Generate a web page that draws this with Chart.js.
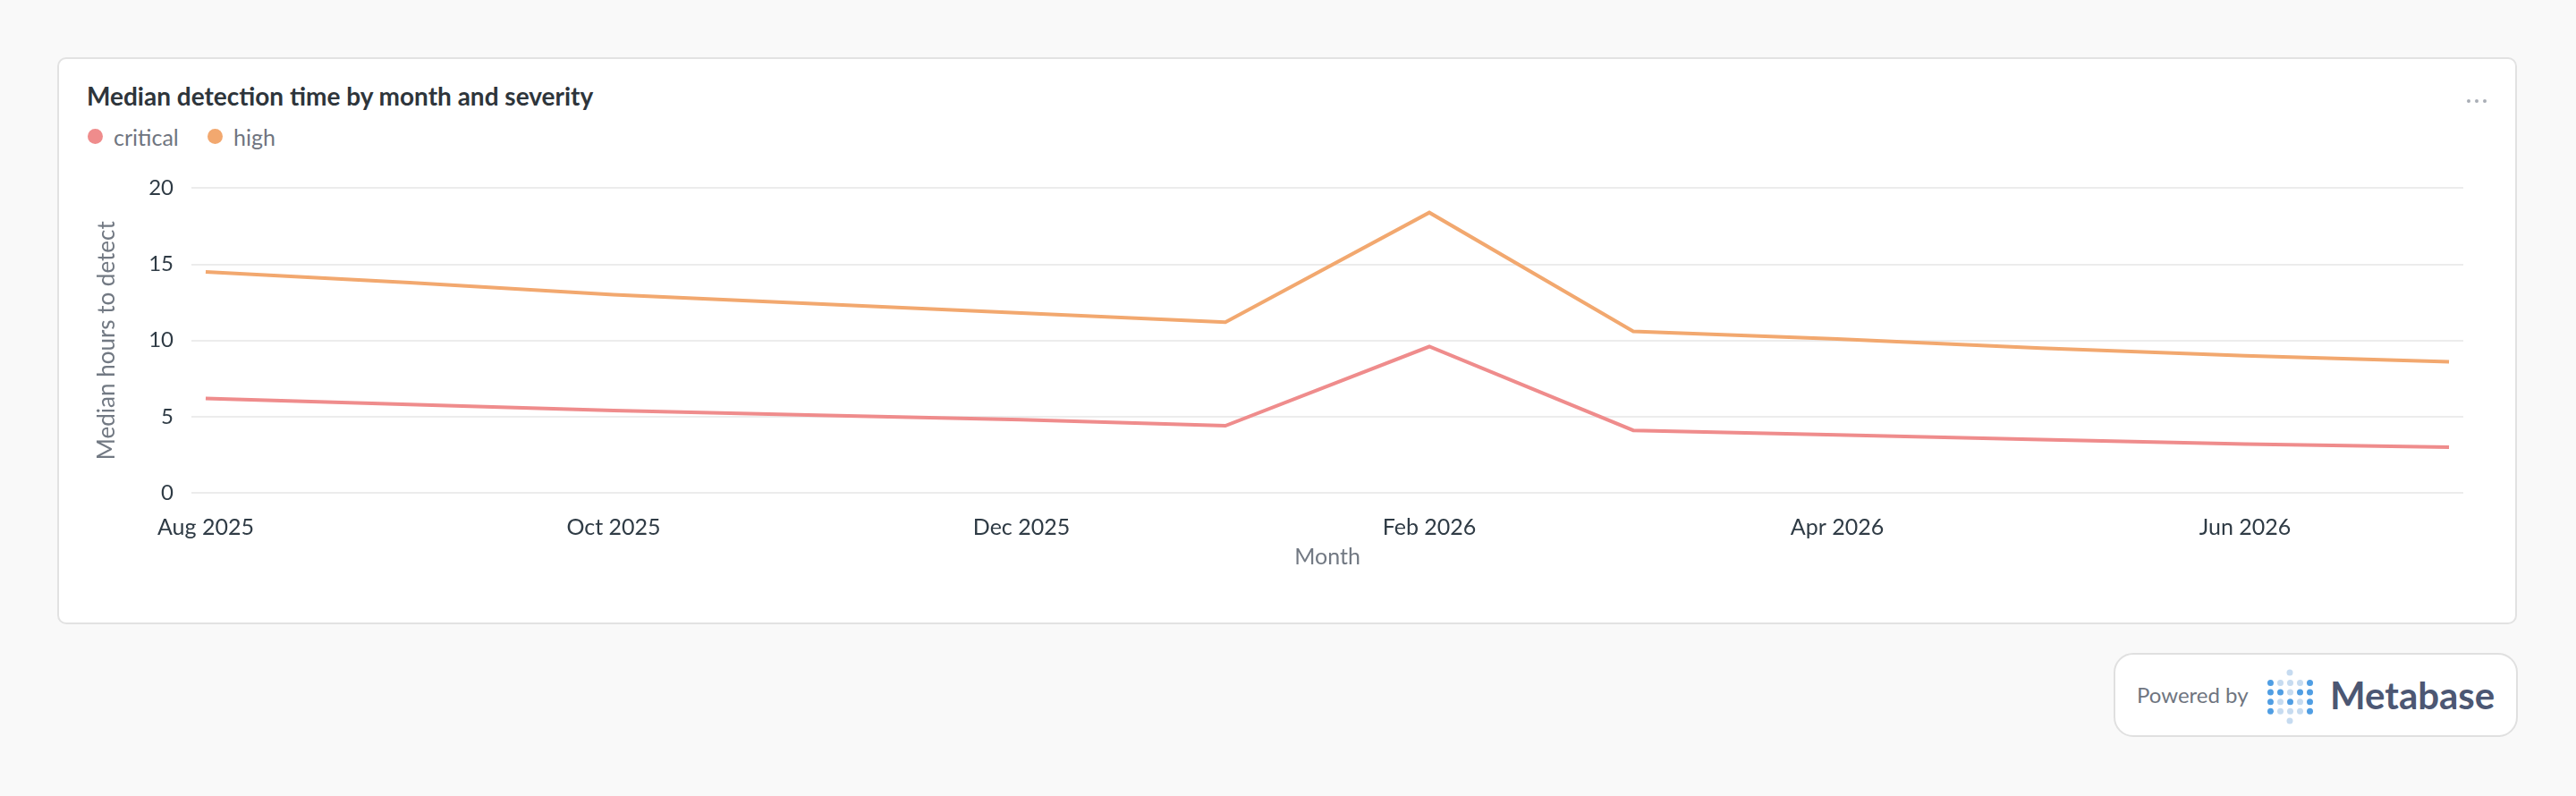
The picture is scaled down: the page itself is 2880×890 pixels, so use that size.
<!DOCTYPE html>
<html>
<head>
<meta charset="utf-8">
<script src="https://cdn.jsdelivr.net/npm/chart.js@4.4.1/dist/chart.umd.min.js"></script>
<style>
  html, body { margin: 0; padding: 0; background: #f9f9f9; font-family: Lato, "Open Sans", sans-serif; }
  .card { position: absolute; left: 64px; top: 64px; width: 2746px; height: 630px; background: #fff;
          border: 2px solid #e2e2e2; border-radius: 10px; }
  .title { position: absolute; left: 97px; top: 90px; font-size: 28px; font-weight: 700; color: #2e353b; }
  .legend { position: absolute; left: 98px; top: 136px; font-size: 25px; color: #6f7580; }
  .legend span { position: absolute; white-space: nowrap; line-height: 34px; }
  .legend i { position: absolute; width: 17px; height: 17px; border-radius: 50%; top: 8px; }
  .menu { position: absolute; left: 2758px; top: 99px; }
  .menu b { display: inline-block; width: 4px; height: 4px; border-radius: 50%; background: #a9aeb6; margin-right: 5px; }
  .chart-box { position: absolute; left: 100px; top: 176px; width: 2680px; height: 474px; }
  .badge { position: absolute; left: 2363px; top: 730px; width: 448px; height: 90px; background: #fff;
           border: 2px solid #e0e0e0; border-radius: 22px; }
  .badge .pw { position: absolute; left: 24px; top: 30px; font-size: 24px; color: #6f7580; }
  .badge svg { position: absolute; left: 170px; top: 16px; }
  .badge .mb { position: absolute; left: 240px; top: 20px; font-size: 42px; font-weight: 700; color: #4c5773; }
</style>
</head>
<body>
<div class="card"></div>
<div class="title">Median detection time by month and severity</div>
<div class="legend">
  <span style="left:0"><i style="left:0;background:#ef8c8c"></i><b style="font-weight:400;margin-left:29px">critical</b></span>
  <span style="left:134px"><i style="left:0;background:#f2a86f"></i><b style="font-weight:400;margin-left:29px">high</b></span>
</div>
<div class="menu"><b></b><b></b><b></b></div>
<div class="chart-box"><canvas id="lineChart"></canvas></div>
<div class="badge">
  <div class="pw">Powered by</div>
  <svg width="60" height="62" viewBox="0 0 60 62"></svg>
  <div class="mb">Metabase</div>
</div>

<script>
// Months on the x axis
const months = ['Aug 2025', 'Sep 2025', 'Oct 2025', 'Nov 2025', 'Dec 2025', 'Jan 2026',
                'Feb 2026', 'Mar 2026', 'Apr 2026', 'May 2026', 'Jun 2026', 'Jul 2026'];

// Median hours to detect, per severity
const critical = [6.2, 5.8, 5.4, 5.1, 4.8, 4.4, 9.6, 4.1, 3.8, 3.5, 3.2, 3.0];
const high = [14.5, 13.8, 13.0, 12.4, 11.8, 11.2, 18.4, 10.6, 10.1, 9.5, 9.0, 8.6];

const yTicks = [0, 5, 10, 15, 20];

// Metabase logo dots (decoration)
const logoRows = ['10001', '11011', '10101', '10001'];
const svg = document.querySelector('.badge svg');
let dots = '<circle cx="25" cy="4" r="3.5" fill="#c6dbf0"/><circle cx="25" cy="58" r="3.5" fill="#c6dbf0"/>';
logoRows.forEach(function(row, r) {
    row.split('').forEach(function(c, k) {
        dots += '<circle cx="' + (3.5 + k * 11) + '" cy="' + (15.5 + r * 10.6) + '" r="3.5" fill="' +
            (c === '1' ? '#509ee3' : '#c6dbf0') + '"/>';
    });
});
svg.innerHTML = dots;

const tickFont = { family: 'Lato', size: 24 };

const ctx = document.getElementById('lineChart').getContext('2d');
const lineChart = new Chart(ctx, {
    type: 'line',
    data: {
        datasets: [{
            label: 'critical',
            data: critical.map((v, i) => ({ x: i, y: v })),
            borderColor: '#ef8c8c',
            borderWidth: 4,
            pointRadius: 0,
            tension: 0
        }, {
            label: 'high',
            data: high.map((v, i) => ({ x: i, y: v })),
            borderColor: '#f2a86f',
            borderWidth: 4,
            pointRadius: 0,
            tension: 0
        }]
    },
    options: {
        responsive: true,
        maintainAspectRatio: false,
        animation: false,
        devicePixelRatio: 1,
        layout: { padding: { top: 3, right: 26, left: 0, bottom: 0 } },
        plugins: { legend: { display: false }, tooltip: { enabled: false } },
        scales: {
            x: {
                type: 'linear',
                bounds: 'data',
                min: -0.07,
                max: months.length - 1 + 0.07,
                afterBuildTicks: axis => {
                    axis.ticks = months.map((m, i) => i).filter(i => i % 2 === 0).map(i => ({ value: i }));
                },
                afterFit: axis => { axis.height = 99; },
                grid: { display: false },
                border: { display: false },
                ticks: {
                    callback: v => months[v],
                    autoSkip: false,
                    maxRotation: 0,
                    padding: 16,
                    color: '#2f3b45',
                    font: { family: 'Lato', size: 25 }
                },
                title: {
                    display: true,
                    text: 'Month',
                    color: '#727983',
                    font: { family: 'Lato', size: 25 },
                    padding: { top: 0, bottom: 12 }
                }
            },
            y: {
                min: 0,
                max: 20,
                afterBuildTicks: axis => { axis.ticks = yTicks.map(v => ({ value: v })); },
                afterFit: axis => { axis.width = 114; },
                grid: { color: '#ececec', lineWidth: 2, drawTicks: false },
                border: { display: false },
                ticks: { padding: 20, color: '#2f3b45', font: tickFont },
                title: {
                    display: true,
                    text: 'Median hours to detect',
                    color: '#727983',
                    font: { family: 'Lato', size: 26 },
                    padding: { top: 4, bottom: 0 }
                }
            }
        }
    }
});
</script>
</body>
</html>
